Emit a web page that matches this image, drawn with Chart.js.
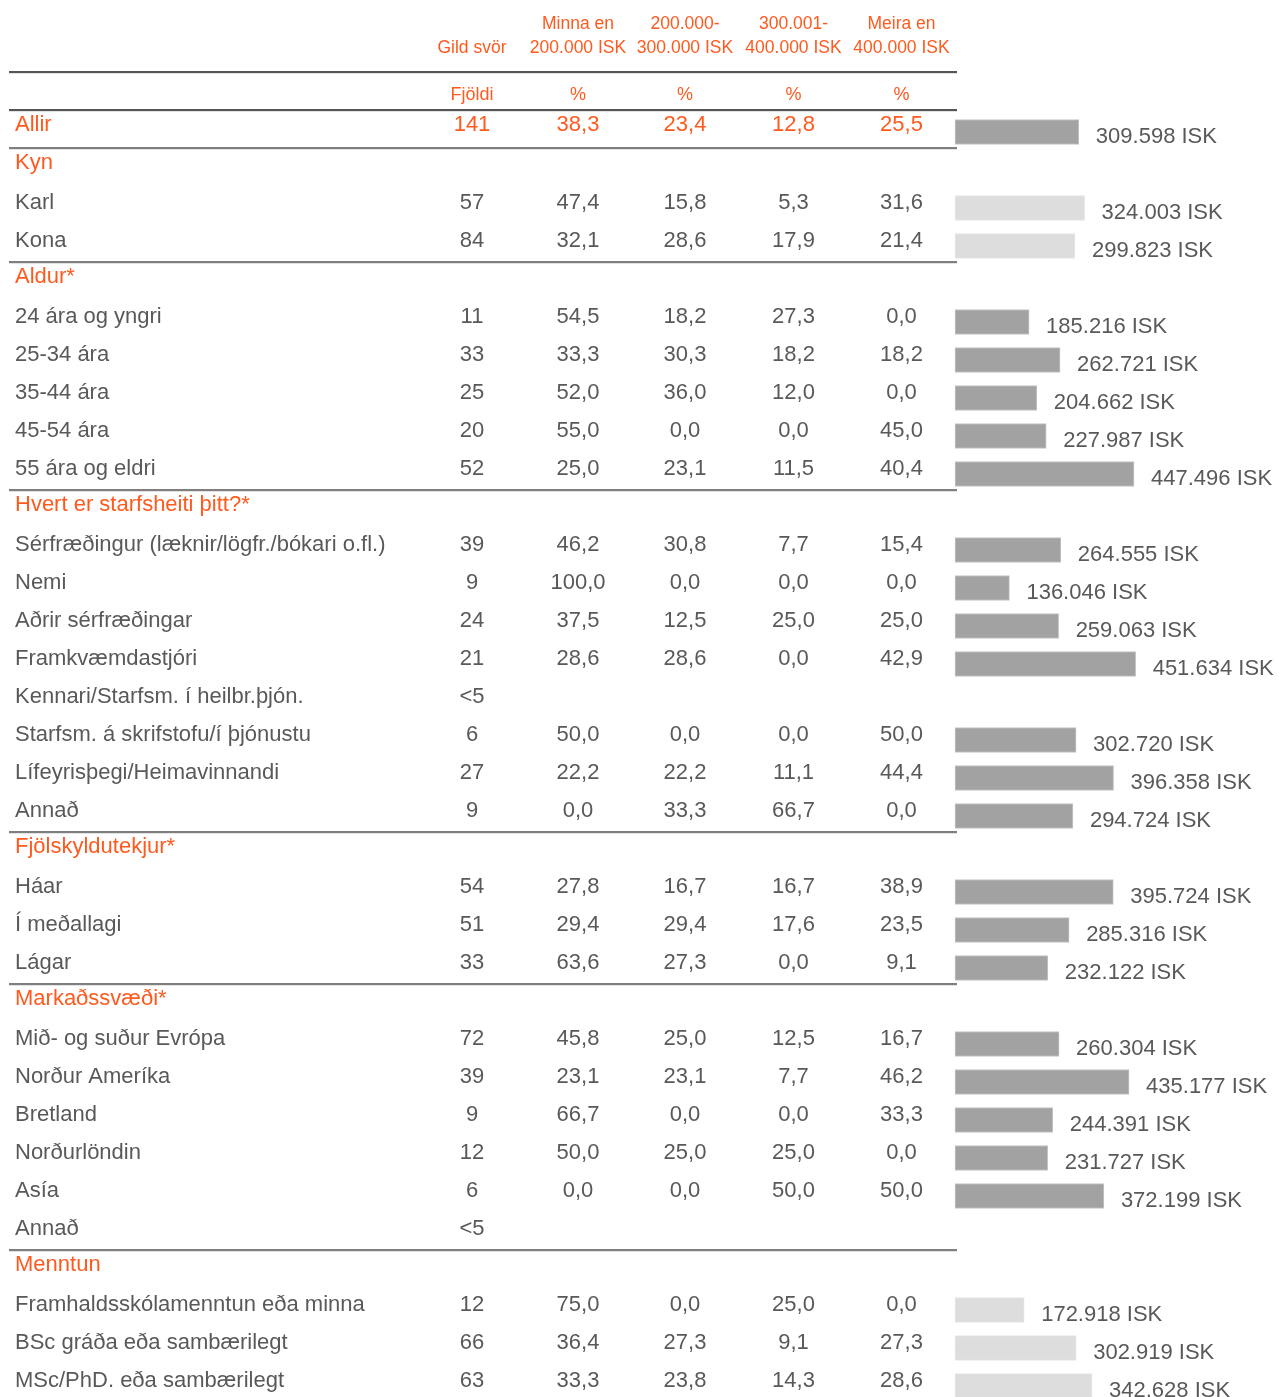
<!DOCTYPE html>
<html><head><meta charset="utf-8">
<script src="https://cdn.jsdelivr.net/npm/chart.js@4/dist/chart.umd.min.js"></script>
<style>html,body{margin:0;padding:0;background:#fff;overflow:hidden}canvas{display:block}</style>
</head><body>
<canvas id="c" width="1279" height="1397"></canvas>
<script>
// ---------- DATA ----------
const headerTop = ['', 'Minna en', '200.000-', '300.001-', 'Meira en'];
const headerBottom = ['Gild svör', '200.000 ISK', '300.000 ISK', '400.000 ISK', '400.000 ISK'];
const unitRow = ['Fjöldi', '%', '%', '%', '%'];

const rowLabels = [
  'Allir', 'Kyn', 'Karl', 'Kona', 'Aldur*',
  '24 ára og yngri', '25-34 ára', '35-44 ára', '45-54 ára', '55 ára og eldri',
  'Hvert er starfsheiti þitt?*',
  'Sérfræðingur (læknir/lögfr./bókari o.fl.)', 'Nemi', 'Aðrir sérfræðingar', 'Framkvæmdastjóri',
  'Kennari/Starfsm. í heilbr.þjón.', 'Starfsm. á skrifstofu/í þjónustu', 'Lífeyrisþegi/Heimavinnandi', 'Annað',
  'Fjölskyldutekjur*', 'Háar', 'Í meðallagi', 'Lágar',
  'Markaðssvæði*', 'Mið- og suður Evrópa', 'Norður Ameríka', 'Bretland', 'Norðurlöndin', 'Asía', 'Annað',
  'Menntun', 'Framhaldsskólamenntun eða minna', 'BSc gráða eða sambærilegt', 'MSc/PhD. eða sambærilegt'
];
// total = whole sample, section = group heading, item = group member
const rowKinds = [
  'total', 'section', 'item', 'item', 'section',
  'item', 'item', 'item', 'item', 'item',
  'section',
  'item', 'item', 'item', 'item', 'item', 'item', 'item', 'item',
  'section', 'item', 'item', 'item',
  'section', 'item', 'item', 'item', 'item', 'item', 'item',
  'section', 'item', 'item', 'item'
];
const counts = [
  141, null, 57, 84, null,
  11, 33, 25, 20, 52,
  null,
  39, 9, 24, 21, '<5', 6, 27, 9,
  null, 54, 51, 33,
  null, 72, 39, 9, 12, 6, '<5',
  null, 12, 66, 63
];
const pctUnder200k = [
  38.3, null, 47.4, 32.1, null,
  54.5, 33.3, 52.0, 55.0, 25.0,
  null,
  46.2, 100.0, 37.5, 28.6, null, 50.0, 22.2, 0.0,
  null, 27.8, 29.4, 63.6,
  null, 45.8, 23.1, 66.7, 50.0, 0.0, null,
  null, 75.0, 36.4, 33.3
];
const pct200to300k = [
  23.4, null, 15.8, 28.6, null,
  18.2, 30.3, 36.0, 0.0, 23.1,
  null,
  30.8, 0.0, 12.5, 28.6, null, 0.0, 22.2, 33.3,
  null, 16.7, 29.4, 27.3,
  null, 25.0, 23.1, 0.0, 25.0, 0.0, null,
  null, 0.0, 27.3, 23.8
];
const pct300to400k = [
  12.8, null, 5.3, 17.9, null,
  27.3, 18.2, 12.0, 0.0, 11.5,
  null,
  7.7, 0.0, 25.0, 0.0, null, 0.0, 11.1, 66.7,
  null, 16.7, 17.6, 0.0,
  null, 12.5, 7.7, 0.0, 25.0, 50.0, null,
  null, 25.0, 9.1, 14.3
];
const pctOver400k = [
  25.5, null, 31.6, 21.4, null,
  0.0, 18.2, 0.0, 45.0, 40.4,
  null,
  15.4, 0.0, 25.0, 42.9, null, 50.0, 44.4, 0.0,
  null, 38.9, 23.5, 9.1,
  null, 16.7, 46.2, 33.3, 0.0, 50.0, null,
  null, 0.0, 27.3, 28.6
];
const avgIncome = [
  309598, null, 324003, 299823, null,
  185216, 262721, 204662, 227987, 447496,
  null,
  264555, 136046, 259063, 451634, null, 302720, 396358, 294724,
  null, 395724, 285316, 232122,
  null, 260304, 435177, 244391, 231727, 372199, null,
  null, 172918, 302919, 342628
];
const lightSections = ['Kyn', 'Menntun'];

// ---------- STYLE ----------
const FONT = '"Liberation Sans", Arial, sans-serif';
const GRAY = '#595959';
const ORANGE = '#FF5A1E';
const colX = [472, 578, 685, 793.5, 901.5];

// section of each row
const rowSection = [];
let cur = 'Allir';
rowLabels.forEach((l, i) => { if (rowKinds[i] !== 'item') cur = l; rowSection.push(cur); });
const isLight = i => lightSections.includes(rowSection[i]);

const fmtPct = v => v.toFixed(1).replace('.', ',');
const fmtIsk = v => String(v).replace(/\B(?=(\d{3})+(?!\d))/g, '.') + ' ISK';

const tablePlugin = {
  id: 'tableText',
  afterDatasetsDraw(chart) {
    const ctx = chart.ctx, ys = chart.scales.y, xs = chart.scales.x;
    const y0 = ys.getPixelForValue(0);
    const step = ys.getPixelForValue(1) - y0;
    ctx.save();
    const hline = (top, color) => {
      ctx.fillStyle = color; ctx.fillRect(9, top, 948, 2);
      ctx.fillStyle = '#e2e2e2'; ctx.fillRect(9, top + 2, 948, 1);
    };
    // header
    ctx.textAlign = 'center'; ctx.textBaseline = 'alphabetic';
    ctx.fillStyle = ORANGE;
    ctx.font = '17.5px ' + FONT;
    headerTop.forEach((t, k) => ctx.fillText(t, colX[k], y0 - 103));
    headerBottom.forEach((t, k) => ctx.fillText(t, colX[k], y0 - 79));
    ctx.font = '18px ' + FONT;
    unitRow.forEach((t, k) => ctx.fillText(t, colX[k], y0 - 32));
    hline(Math.round(y0 - 61), '#555555');
    hline(Math.round(y0 - 23), '#555555');
    // rows
    rowLabels.forEach((label, i) => {
      const cy = ys.getPixelForValue(i);
      const kind = rowKinds[i];
      if (kind === 'section') hline(Math.round(cy - step / 2 - 4), '#7f7f7f');
      const base = kind === 'item' ? cy + 1 : cy - 1;
      ctx.font = '22px ' + FONT;
      ctx.fillStyle = kind === 'item' ? GRAY : ORANGE;
      ctx.textAlign = 'left';
      ctx.fillText(label, 15, base);
      ctx.textAlign = 'center';
      const vals = [counts[i], pctUnder200k[i], pct200to300k[i], pct300to400k[i], pctOver400k[i]];
      vals.forEach((v, k) => {
        if (v === null || v === undefined) return;
        const s = k === 0 ? String(v) : fmtPct(v);
        ctx.fillText(s, colX[k], base);
      });
      const inc = avgIncome[i];
      if (inc !== null) {
        ctx.textAlign = 'left';
        ctx.fillStyle = GRAY;
        ctx.fillText(fmtIsk(inc), xs.getPixelForValue(inc) + 17, cy + 11);
      }
    });
    ctx.restore();
  }
};

new Chart(document.getElementById('c'), {
  type: 'bar',
  data: {
    labels: rowLabels,
    datasets: [{
      data: avgIncome,
      backgroundColor: c => isLight(c.dataIndex) ? '#DDDDDD' : '#A2A2A2',
      borderColor: c => isLight(c.dataIndex) ? '#E6E6E6' : '#C4C4C4',
      borderWidth: 1,
      borderSkipped: false,
      barThickness: 25,
      clip: false
    }]
  },
  options: {
    indexAxis: 'y',
    responsive: false,
    animation: false,
    devicePixelRatio: 1,
    layout: { padding: { left: 955, right: 0, top: 132, bottom: 11 } },
    scales: {
      x: { display: false, min: 0, max: 810000 },
      y: { display: false, offset: false }
    },
    plugins: { legend: { display: false }, tooltip: { enabled: false } }
  },
  plugins: [tablePlugin]
});
</script>
</body></html>
